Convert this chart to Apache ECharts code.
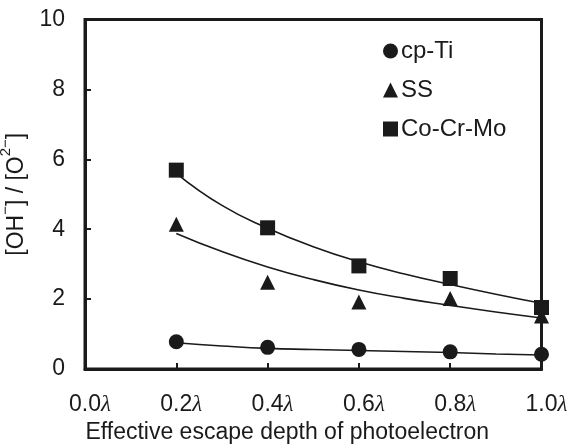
<!DOCTYPE html>
<html>
<head>
<meta charset="utf-8">
<script src="https://cdn.jsdelivr.net/npm/echarts@6/dist/echarts.min.js"></script>
<style>html,body{margin:0;padding:0;background:#fff}#c{width:575px;height:448px}</style>
</head>
<body>
<div id="c"></div>
<script>
// Measured points
const xPoints = [0.2, 0.4, 0.6, 0.8, 1.0];
const cpTi = [0.78, 0.62, 0.56, 0.49, 0.42];
const ss = [4.14, 2.48, 1.92, 2.02, 1.52];
const coCrMo = [5.69, 4.04, 2.95, 2.59, 1.76];

// Fitted trend curves
const xFit = [0.2, 0.3, 0.4, 0.5, 0.6, 0.7, 0.8, 0.9, 1.0];
const cpTiFit = [0.75, 0.66, 0.59, 0.56, 0.53, 0.50, 0.47, 0.43, 0.40];
const ssFit = [3.88, 3.36, 2.92, 2.56, 2.26, 2.02, 1.82, 1.63, 1.46];
const coCrMoFit = [5.60, 4.68, 4.03, 3.50, 3.07, 2.72, 2.42, 2.14, 1.88];

// Tick labels
const xTickLabels = ['0.0', '0.2', '0.4', '0.6', '0.8', '1.0'];
const yTickLabels = ['0', '2', '4', '6', '8', '10'];

const seriesNames = ['cp-Ti', 'SS', 'Co-Cr-Mo'];

const FONT = "'Liberation Sans', Arial, sans-serif";
const FS = 23;

function pairs(xs, ys) { return xs.map((x, i) => [x, ys[i]]); }

const chart = echarts.init(document.getElementById('c'), null, {renderer: 'canvas'});

const lamStyle = {fontFamily: "'Liberation Serif', 'DejaVu Serif', serif", fontStyle: 'italic', fontSize: FS, color: '#1a1a1a'};

chart.setOption({
  animation: false,
  backgroundColor: '#fff',
  grid: {left: 85, right: 33.5, top: 19.5, bottom: 79, show: true, borderColor: '#1a1a1a', borderWidth: 3,
         containLabel: false, outerBoundsMode: 'none'},
  legend: {
    orient: 'vertical', left: 378, top: 34, itemGap: 15,
    itemWidth: 15, itemHeight: 15, itemStyle: {color: '#1a1a1a'},
    textStyle: {fontFamily: FONT, fontSize: 24, color: '#1a1a1a', padding: [0, 0, 0, -2]},
    data: [
      {name: seriesNames[0], icon: 'circle'},
      {name: seriesNames[1], icon: 'triangle'},
      {name: seriesNames[2], icon: 'rect'}
    ]
  },
  xAxis: {
    type: 'value', min: 0, max: 1, interval: 0.2,
    name: 'Effective escape depth of photoelectron',
    nameLocation: 'middle', nameGap: 52,
    nameTextStyle: {fontFamily: FONT, fontSize: FS, color: '#1a1a1a', padding: [0, 52, 0, 0]},
    axisLine: {show: true, lineStyle: {color: '#1a1a1a', width: 3}},
    axisTick: {show: true, inside: true, length: 6, lineStyle: {color: '#1a1a1a', width: 2}},
    splitLine: {show: false},
    axisLabel: {
      margin: 24, fontFamily: FONT, fontSize: FS, color: '#1a1a1a',
      formatter: function (v) {
        const i = Math.round(v / 0.2);
        return '{h|λ}{n|' + xTickLabels[i] + '}{l|λ}';
      },
      rich: {
        n: {fontFamily: FONT, fontSize: FS, color: '#1a1a1a'},
        l: lamStyle,
        h: Object.assign({}, lamStyle, {color: 'rgba(0,0,0,0)'})
      }
    }
  },
  yAxis: {
    type: 'value', min: 0, max: 10, interval: 2,
    name: '{t|[OH}{s|−}{t|] / [O}{s|2−}{t|]}',
    nameLocation: 'middle', nameGap: 49, nameRotate: 90,
    nameTextStyle: {
      fontFamily: FONT, fontSize: FS, color: '#1a1a1a',
      rich: {
        t: {fontFamily: FONT, fontSize: FS, color: '#1a1a1a', lineHeight: 30, verticalAlign: 'bottom'},
        s: {fontFamily: FONT, fontSize: 15, color: '#1a1a1a', lineHeight: 30, verticalAlign: 'top'}
      }
    },
    axisLine: {show: true, lineStyle: {color: '#1a1a1a', width: 3}},
    axisTick: {show: true, inside: true, length: 6, lineStyle: {color: '#1a1a1a', width: 2}},
    splitLine: {show: false},
    axisLabel: {
      margin: 20, fontFamily: FONT, fontSize: FS, color: '#1a1a1a',
      formatter: function (v) { return yTickLabels[Math.round(v / 2)]; }
    }
  },
  series: [
    {type: 'line', smooth: true, showSymbol: false, symbol: 'none', silent: true, z: 2,
     lineStyle: {color: '#1a1a1a', width: 1.6}, data: pairs(xFit, cpTiFit)},
    {type: 'line', smooth: true, showSymbol: false, symbol: 'none', silent: true, z: 2,
     lineStyle: {color: '#1a1a1a', width: 1.6}, data: pairs(xFit, ssFit)},
    {type: 'line', smooth: true, showSymbol: false, symbol: 'none', silent: true, z: 2,
     lineStyle: {color: '#1a1a1a', width: 1.6}, data: pairs(xFit, coCrMoFit)},
    {name: seriesNames[0], type: 'scatter', symbol: 'circle', symbolSize: 15, z: 3,
     itemStyle: {color: '#1a1a1a', opacity: 1}, data: pairs(xPoints, cpTi)},
    {name: seriesNames[1], type: 'scatter', symbol: 'triangle', symbolSize: 15, z: 3,
     itemStyle: {color: '#1a1a1a', opacity: 1}, data: pairs(xPoints, ss)},
    {name: seriesNames[2], type: 'scatter', symbol: 'rect', symbolSize: 15, z: 3,
     itemStyle: {color: '#1a1a1a', opacity: 1}, data: pairs(xPoints, coCrMo)}
  ]
});
</script>
</body>
</html>
